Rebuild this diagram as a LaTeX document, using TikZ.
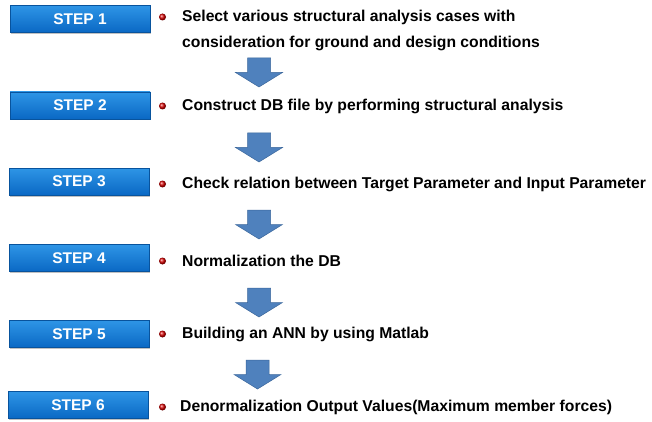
\documentclass[tikz,border=0pt]{standalone}
\usepackage{fontspec}
\setmainfont{Liberation Sans}
\usetikzlibrary{shadows}
\definecolor{boxtop}{HTML}{2E95E6}
\definecolor{boxbot}{HTML}{0A68C4}
\definecolor{arrfill}{HTML}{4F81BD}
\definecolor{arredge}{HTML}{3B679C}
\tikzset{
  stepbox/.style={rectangle, minimum width=140pt, minimum height=27pt, inner sep=0pt,
    top color=boxtop, bottom color=boxbot, draw=boxbot!80!black, line width=0.4pt,
    drop shadow={shadow xshift=0.8pt, shadow yshift=-1.5pt, fill=black!40, opacity=0.6},
    text=white, font=\bfseries\fontsize{15.5}{15.5}\selectfont},
  bulletdot/.style={circle, minimum size=7pt, inner sep=0pt, ball color=red!85!black},
  desc/.style={anchor=west, inner sep=0pt, text=black, font=\bfseries\fontsize{15.7}{26}\selectfont, align=left},
  blockarrow/.style={fill=arrfill, draw=arredge, line width=0.5pt, line join=miter}
}
\newcommand{\downarrowat}[2]{%
  \draw[blockarrow] (#1-11.5,#2) -- (#1+11.5,#2) -- (#1+11.5,#2-14.5) -- (#1+23.5,#2-14.5)
    -- (#1,#2-29) -- (#1-23.5,#2-14.5) -- (#1-11.5,#2-14.5) -- cycle;}
\begin{document}
\begin{tikzpicture}[x=1pt,y=1pt]
\useasboundingbox (0,0) rectangle (652,-422);
\fill[white] (0,0) rectangle (652,-422);
% step boxes
\node[stepbox] (s1) at (80,-19) {STEP 1};
\node[stepbox] (s2) at (80,-105.5) {STEP 2};
\node[stepbox] (s3) at (79,-181.5) {STEP 3};
\node[stepbox] (s4) at (79,-258) {STEP 4};
\node[stepbox] (s5) at (79,-334) {STEP 5};
\node[stepbox] (s6) at (78,-405) {STEP 6};
% bullets
\node[bulletdot] (b1) at (162.5,-17) {};
\node[bulletdot] (b2) at (162.5,-106) {};
\node[bulletdot] (b3) at (162.5,-184) {};
\node[bulletdot] (b4) at (162.5,-261) {};
\node[bulletdot] (b5) at (162.5,-334) {};
\node[bulletdot] (b6) at (162.5,-407) {};
% descriptions
\node[desc] (t1) at (182,-30) {Select various structural analysis cases with\\consideration for ground and design conditions};
\node[desc] (t2) at (182,-106) {Construct DB file by performing structural analysis};
\node[desc] (t3) at (182,-184) {Check relation between Target Parameter and Input Parameter};
\node[desc] (t4) at (182,-261) {Normalization the DB};
\node[desc] (t5) at (182,-334) {Building an ANN by using Matlab};
\node[desc] (t6) at (180,-407) {Denormalization Output Values(Maximum member forces)};
% block arrows
\downarrowat{259}{-58}
\downarrowat{259}{-133}
\downarrowat{259}{-210}
\downarrowat{259}{-288}
\downarrowat{257.5}{-360}
\end{tikzpicture}
\end{document}
